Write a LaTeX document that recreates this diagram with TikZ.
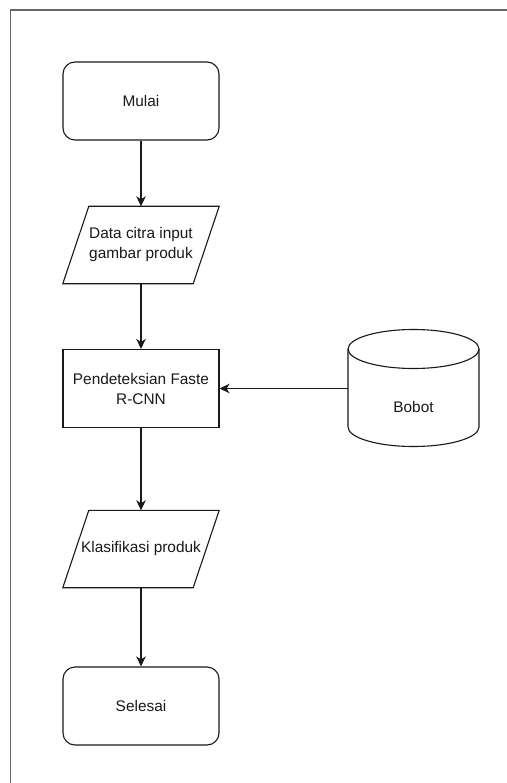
\documentclass[tikz,border=0pt]{standalone}
\usepackage{fontspec}
\setmainfont{Liberation Sans}
\usetikzlibrary{arrows.meta,calc}

\tikzset{
  unit/.style={x=1pt,y=1pt},
  frameline/.style={draw=black!60, line width=1.8pt},
  outline/.style={draw=black!90, line width=1.1pt},
  label text/.style={font=\fontsize{15.4}{20}\selectfont, align=center, text=black!90},
  terminal/.style={outline, label text, rounded corners=12pt,
    minimum width=156pt, minimum height=78pt, inner sep=0pt},
  process/.style={outline, label text,
    minimum width=156pt, minimum height=78pt, inner sep=0pt},
  iobox/.style={label text, minimum width=156pt, minimum height=77pt, inner sep=0pt},
  store/.style={minimum width=131pt, minimum height=117pt, inner sep=0pt},
  flow/.style={draw=black!90, line width=1.1pt,
    -{Stealth[length=10pt,width=9.5pt,inset=3pt]}},
}

\newcommand{\ioshape}[1]{%
  \draw[outline]
    ($(#1.north west)+(26,0)$) -- (#1.north east)
    -- ($(#1.south east)+(-26,0)$) -- (#1.south west) -- cycle;}

\begin{document}
\begin{tikzpicture}[unit]
  \useasboundingbox (0,0) rectangle (506,-783);

  % page frame
  \draw[frameline] (10.5,-790) -- (10.5,-10) -- (515,-10);

  % flow nodes
  \node[terminal] (mulai)   at (141,-101) {Mulai};
  \node[iobox]    (data)    at (141,-245) {Data citra input\\gambar produk};
  \node[process]  (deteksi) at (141,-388.5) {Pendeteksian Faste\\R-CNN};
  \node[iobox]    (klas)    at (141,-549) {Klasifikasi produk};
  \node[terminal] (selesai) at (141,-706) {Selesai};

  \ioshape{data}
  \ioshape{klas}

  % weight storage (cylinder)
  \node[store] (bobot) at (413.5,-388.5) {};
  \draw[outline]
    (348,-349) -- (348,-427) arc (180:360:65.5pt and 19.5pt) -- (479,-349);
  \draw[outline] (413.5,-349) ellipse (65.5pt and 19.5pt);
  \node[label text] (bobottext) at (413.5,-407) {Bobot};

  % connectors
  \draw[flow] (mulai.south)   -- (data.north);
  \draw[flow] (data.south)    -- (deteksi.north);
  \draw[flow] (deteksi.south) -- (klas.north);
  \draw[flow] (klas.south)    -- (selesai.north);
  \draw[flow] (bobot.west)    -- (deteksi.east);
\end{tikzpicture}
\end{document}
